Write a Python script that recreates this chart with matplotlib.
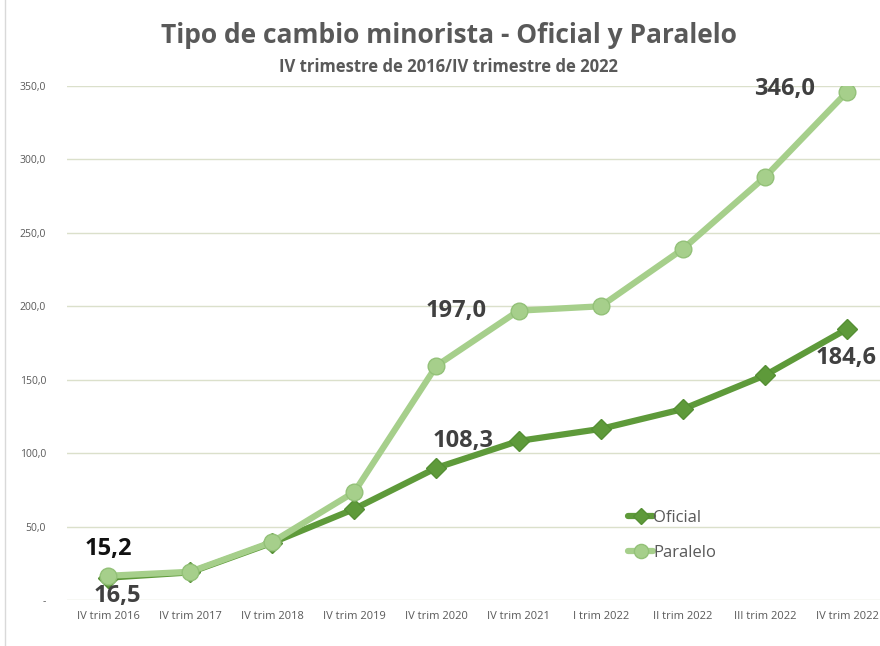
import matplotlib.pyplot as plt
import numpy as np

# Datos (tipo de cambio minorista)
trimestres = ["IV trim 2016", "IV trim 2017", "IV trim 2018", "IV trim 2019", "IV trim 2020",
              "IV trim 2021", "I trim 2022", "II trim 2022", "III trim 2022", "IV trim 2022"]
oficial = [15.2, 18.8, 39.0, 62.0, 90.0, 108.3, 116.5, 130.0, 153.0, 184.6]
paralelo = [16.5, 19.2, 39.5, 73.5, 159.5, 197.0, 200.0, 239.0, 288.0, 346.0]
y_ticks = [0, 50, 100, 150, 200, 250, 300, 350]

col_of = "#5e9a3a"
col_par = "#a6cf8b"
gris = "#595959"

plt.rcParams['font.family'] = ['Open Sans', 'DejaVu Sans']

fig = plt.figure(figsize=(8.8, 6.46), dpi=100)
ax = fig.add_axes([0.076, 0.0712, 0.924, 0.7957])
x = np.arange(len(trimestres))

ax.plot(x, oficial, color=col_of, lw=4.5, marker="D", ms=10, mfc=col_of,
        mec="#558f34", label="Oficial", zorder=3, solid_capstyle="round")
ax.plot(x, paralelo, color=col_par, lw=4.5, marker="o", ms=12, mfc=col_par,
        mec="#93c178", label="Paralelo", zorder=4, solid_capstyle="round")

ax.set_xlim(-0.5, 9.4)
ax.set_ylim(0, 350)
ax.set_yticks(y_ticks)
ax.set_yticklabels(["-" if v == 0 else f"{v:.1f}".replace(".", ",") for v in y_ticks],
                   fontsize=7.5, color=gris, family=['Liberation Sans Narrow', 'Open Sans'])
ax.set_xticks(x)
ax.set_xticklabels(trimestres, fontsize=8, color=gris,
                   family=['Liberation Sans Narrow', 'Open Sans'])
ax.tick_params(axis="both", length=0, pad=8)
ax.tick_params(axis="y", pad=15)
ax.grid(axis="y", color="#dbe0cb", lw=1)
ax.set_axisbelow(True)
for s in ax.spines.values():
    s.set_visible(False)

# Etiquetas de datos
lab = dict(fontsize=17, fontweight="bold", color="#404040")
ax.annotate("15,2", (0, oficial[0]), xytext=(0, 12), textcoords="offset points",
            ha="center", va="bottom", fontsize=17, fontweight="bold", color="#111111")
ax.annotate("16,5", (0, paralelo[0]), xytext=(7, -6), textcoords="offset points",
            ha="center", va="top", **lab)
ax.annotate("197,0", (5, paralelo[5]), xytext=(-45, 0), textcoords="offset points",
            ha="center", va="center", **lab)
ax.annotate("108,3", (5, oficial[5]), xytext=(-40, 0), textcoords="offset points",
            ha="center", va="center", **lab)
ax.annotate("346,0", (9, paralelo[9]), xytext=(-45, 2), textcoords="offset points",
            ha="center", va="center", **lab)
ax.annotate("184,6", (9, oficial[9]), xytext=(-1, -21), textcoords="offset points",
            ha="center", va="center", **lab)

ax.legend(loc="center left", bbox_to_anchor=(0.672, 0.126),
          frameon=False, fontsize=12, labelcolor=gris, handlelength=1.5,
          handletextpad=0.0, labelspacing=1.15, markerscale=0.85)

fig.text(0.51, 0.945, "Tipo de cambio minorista - Oficial y Paralelo", ha="center",
         va="center", fontsize=19, fontweight="bold", color=gris)
fig.text(0.51, 0.897, "IV trimestre de 2016/IV trimestre de 2022", ha="center",
         va="center", fontsize=12, fontweight="bold", color=gris)

fig.add_artist(plt.Line2D([0.006, 0.006], [0.0, 1.0], color="#d9d9d9", lw=1))

fig.savefig("out.png", dpi=100)
